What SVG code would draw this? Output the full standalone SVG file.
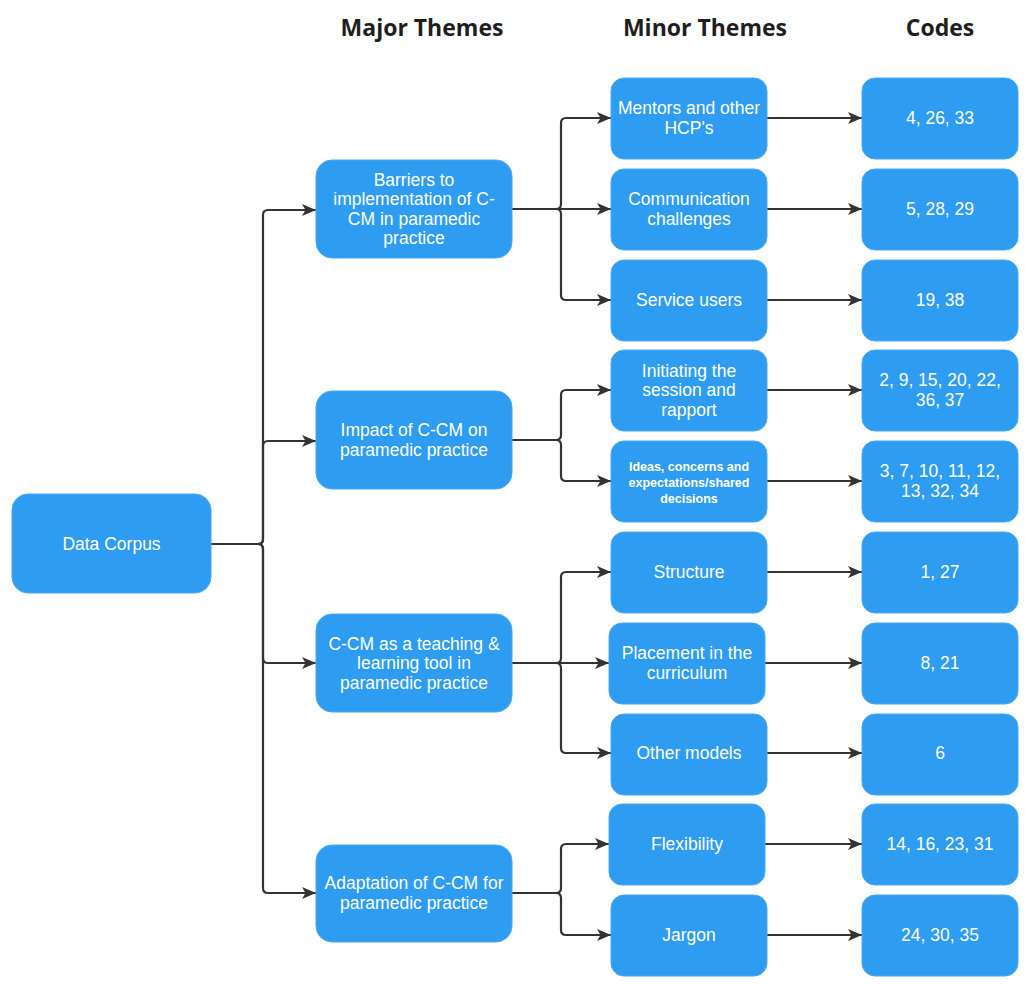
<svg xmlns="http://www.w3.org/2000/svg" width="1025" height="990" viewBox="0 0 1025 990">
<style>
.box{fill:#2E9CF0;stroke:#49A8F2;stroke-width:1}
.t{font-family:"Liberation Sans",Arial,sans-serif;font-size:17.5px;fill:#FFFFFF;text-anchor:middle}
.ts{font-family:"Liberation Sans",Arial,sans-serif;font-size:12.5px;font-weight:bold;fill:#FFFFFF;text-anchor:middle}
.h{font-family:"Open Sans",sans-serif;font-size:23px;font-weight:700;fill:#1E1E1E;text-anchor:middle}
.e{fill:none;stroke:#333333;stroke-width:2.2;marker-end:url(#arr)}
</style>
<defs>
<marker id="arr" viewBox="0 0 14 12" refX="14" refY="6" markerWidth="14" markerHeight="12" markerUnits="userSpaceOnUse" orient="auto">
<path d="M0,0 L14,6 L0,12 L3.5,6 Z" fill="#333333"/>
</marker>
</defs>
<rect width="1025" height="990" fill="#FFFFFF"/>
<g id="headers">
<text class="h" x="422" y="36">Major Themes</text>
<text class="h" x="705" y="36">Minor Themes</text>
<text class="h" x="940" y="36">Codes</text>
</g>
<g id="connectors">
<path class="e" d="M211,544 H258 Q263,544 263,539 V215 Q263,210 268,210 H316"/>
<path class="e" d="M211,544 H258 Q263,544 263,539 V446 Q263,441 268,441 H316"/>
<path class="e" d="M211,544 H258 Q263,544 263,549 V658 Q263,663 268,663 H316"/>
<path class="e" d="M211,544 H258 Q263,544 263,549 V888 Q263,893 268,893 H316"/>
<path class="e" d="M512,209 H556 Q561,209 561,204 V123 Q561,118 566,118 H611"/>
<path class="e" d="M512,209 H611"/>
<path class="e" d="M512,209 H556 Q561,209 561,214 V295 Q561,300 566,300 H611"/>
<path class="e" d="M512,440 H556 Q561,440 561,435 V395 Q561,390 566,390 H611"/>
<path class="e" d="M512,440 H556 Q561,440 561,445 V476 Q561,481 566,481 H611"/>
<path class="e" d="M512,663 H556 Q561,663 561,658 V577 Q561,572 566,572 H611"/>
<path class="e" d="M512,663 H609"/>
<path class="e" d="M512,663 H556 Q561,663 561,668 V748 Q561,753 566,753 H611"/>
<path class="e" d="M512,893 H556 Q561,893 561,888 V849 Q561,844 566,844 H609"/>
<path class="e" d="M512,893 H556 Q561,893 561,898 V930 Q561,935 566,935 H611"/>
<path class="e" d="M767,118 H862"/>
<path class="e" d="M767,209 H862"/>
<path class="e" d="M767,300 H862"/>
<path class="e" d="M767,390 H862"/>
<path class="e" d="M767,481 H862"/>
<path class="e" d="M767,572 H862"/>
<path class="e" d="M765,663 H862"/>
<path class="e" d="M767,753 H862"/>
<path class="e" d="M765,844 H862"/>
<path class="e" d="M767,935 H862"/>
</g>
<g id="data-corpus">
<rect class="box" x="12" y="494" width="199" height="99" rx="16"/>
<text class="t" x="111.5" y="550">Data Corpus</text>
</g>
<g id="major-barriers">
<rect class="box" x="316" y="160" width="196" height="98" rx="16"/>
<text class="t" x="414" y="186"><tspan x="414">Barriers to</tspan><tspan x="414" dy="19.3">implementation of C-</tspan><tspan x="414" dy="19.3">CM in paramedic</tspan><tspan x="414" dy="19.3">practice</tspan></text>
</g>
<g id="major-impact">
<rect class="box" x="316" y="391" width="196" height="98" rx="16"/>
<text class="t" x="414" y="436"><tspan x="414">Impact of C-CM on</tspan><tspan x="414" dy="19.5">paramedic practice</tspan></text>
</g>
<g id="major-teaching">
<rect class="box" x="316" y="614" width="196" height="98" rx="16"/>
<text class="t" x="414" y="649.5"><tspan x="414">C-CM as a teaching &amp;</tspan><tspan x="414" dy="19.5">learning tool in</tspan><tspan x="414" dy="19.5">paramedic practice</tspan></text>
</g>
<g id="major-adaptation">
<rect class="box" x="316" y="845" width="196" height="97" rx="16"/>
<text class="t" x="414" y="889"><tspan x="414">Adaptation of C-CM for</tspan><tspan x="414" dy="19.5">paramedic practice</tspan></text>
</g>
<g id="minor-mentors">
<rect class="box" x="611" y="78" width="156" height="81" rx="13"/>
<text class="t" x="689" y="114"><tspan x="689">Mentors and other</tspan><tspan x="689" dy="19.5">HCP's</tspan></text>
</g>
<g id="minor-communication">
<rect class="box" x="611" y="169" width="156" height="81" rx="13"/>
<text class="t" x="689" y="205"><tspan x="689">Communication</tspan><tspan x="689" dy="19.5">challenges</tspan></text>
</g>
<g id="minor-service">
<rect class="box" x="611" y="260" width="156" height="81" rx="13"/>
<text class="t" x="689" y="306">Service users</text>
</g>
<g id="minor-initiating">
<rect class="box" x="611" y="350" width="156" height="81" rx="13"/>
<text class="t" x="689" y="376.5"><tspan x="689">Initiating the</tspan><tspan x="689" dy="19.5">session and</tspan><tspan x="689" dy="19.5">rapport</tspan></text>
</g>
<g id="minor-ideas">
<rect class="box" x="611" y="441" width="156" height="81" rx="13"/>
<text class="ts" x="689" y="470.5"><tspan x="689">Ideas, concerns and</tspan><tspan x="689" dy="16">expectations/shared</tspan><tspan x="689" dy="16">decisions</tspan></text>
</g>
<g id="minor-structure">
<rect class="box" x="611" y="532" width="156" height="81" rx="13"/>
<text class="t" x="689" y="578">Structure</text>
</g>
<g id="minor-placement">
<rect class="box" x="609" y="623" width="156" height="81" rx="13"/>
<text class="t" x="687" y="659"><tspan x="687">Placement in the</tspan><tspan x="687" dy="19.5">curriculum</tspan></text>
</g>
<g id="minor-other">
<rect class="box" x="611" y="714" width="156" height="81" rx="13"/>
<text class="t" x="689" y="759">Other models</text>
</g>
<g id="minor-flexibility">
<rect class="box" x="609" y="804" width="156" height="81" rx="13"/>
<text class="t" x="687" y="850">Flexibility</text>
</g>
<g id="minor-jargon">
<rect class="box" x="611" y="895" width="156" height="81" rx="13"/>
<text class="t" x="689" y="941">Jargon</text>
</g>
<g id="code-1">
<rect class="box" x="862" y="78" width="156" height="81" rx="13"/>
<text class="t" x="940" y="124">4, 26, 33</text>
</g>
<g id="code-2">
<rect class="box" x="862" y="169" width="156" height="81" rx="13"/>
<text class="t" x="940" y="215">5, 28, 29</text>
</g>
<g id="code-3">
<rect class="box" x="862" y="260" width="156" height="81" rx="13"/>
<text class="t" x="940" y="306">19, 38</text>
</g>
<g id="code-4">
<rect class="box" x="862" y="350" width="156" height="81" rx="13"/>
<text class="t" x="940" y="386"><tspan x="940">2, 9, 15, 20, 22,</tspan><tspan x="940" dy="19.5">36, 37</tspan></text>
</g>
<g id="code-5">
<rect class="box" x="862" y="441" width="156" height="81" rx="13"/>
<text class="t" x="940" y="477"><tspan x="940">3, 7, 10, 11, 12,</tspan><tspan x="940" dy="19.5">13, 32, 34</tspan></text>
</g>
<g id="code-6">
<rect class="box" x="862" y="532" width="156" height="81" rx="13"/>
<text class="t" x="940" y="578">1, 27</text>
</g>
<g id="code-7">
<rect class="box" x="862" y="623" width="156" height="81" rx="13"/>
<text class="t" x="940" y="669">8, 21</text>
</g>
<g id="code-8">
<rect class="box" x="862" y="714" width="156" height="81" rx="13"/>
<text class="t" x="940" y="759">6</text>
</g>
<g id="code-9">
<rect class="box" x="862" y="804" width="156" height="81" rx="13"/>
<text class="t" x="940" y="850">14, 16, 23, 31</text>
</g>
<g id="code-10">
<rect class="box" x="862" y="895" width="156" height="81" rx="13"/>
<text class="t" x="940" y="941">24, 30, 35</text>
</g>
</svg>
